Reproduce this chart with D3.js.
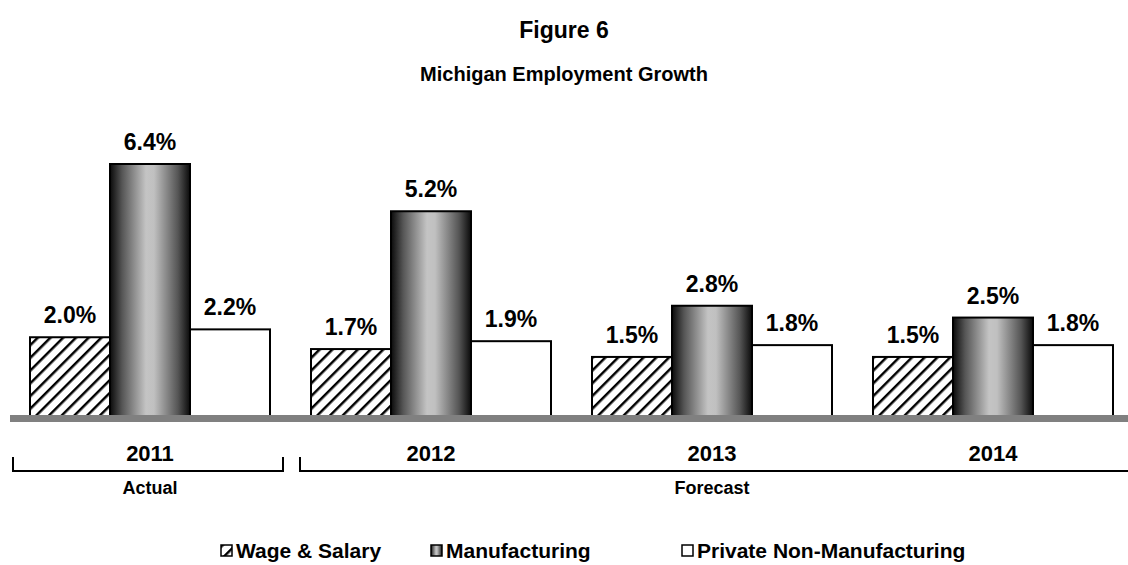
<!DOCTYPE html>
<html>
<head>
<meta charset="utf-8">
<script src="https://d3js.org/d3.v7.min.js"></script>
<style>
  body { margin: 0; background: #fff; }
  text { font-family: Arial, "Liberation Sans", sans-serif; font-weight: bold; fill: #000; }
</style>
</head>
<body>
<div id="chart"></div>
<script>
var years = ["2011", "2012", "2013", "2014"];
var series = ["Wage & Salary", "Manufacturing", "Private Non-Manufacturing"];
var wageSalary = [2.0, 1.7, 1.5, 1.5];
var manufacturing = [6.4, 5.2, 2.8, 2.5];
var privateNonMfg = [2.2, 1.9, 1.8, 1.8];
var periods = [{ label: "Actual", from: "2011", to: "2011" }, { label: "Forecast", from: "2012", to: "2014" }];

var width = 1128, height = 565;
var values = [wageSalary, manufacturing, privateNonMfg];
var fills = ["url(#hatch)", "url(#cyl)", "#fff"];

var svg = d3.select("#chart").append("svg")
    .attr("width", width)
    .attr("height", height);

var defs = svg.append("defs");
var pat = defs.append("pattern")
    .attr("id", "hatch")
    .attr("patternUnits", "userSpaceOnUse")
    .attr("width", 9).attr("height", 9)
    .attr("patternTransform", "rotate(45)");
pat.append("rect").attr("width", 9).attr("height", 9).attr("fill", "#fff");
pat.append("line").attr("x1", 0).attr("y1", 0).attr("x2", 0).attr("y2", 9)
    .attr("stroke", "#000").attr("stroke-width", 5);

var grad = defs.append("linearGradient").attr("id", "cyl")
    .attr("x1", "0%").attr("x2", "100%").attr("y1", "0%").attr("y2", "0%");
[["0%", "#0a0a0a"], ["15%", "#555"], ["45%", "#c4c4c4"], ["55%", "#c0c0c0"], ["85%", "#555"], ["100%", "#0a0a0a"]]
  .forEach(function(s) { grad.append("stop").attr("offset", s[0]).attr("stop-color", s[1]); });

var x0 = d3.scaleBand().domain(years).range([30, 1113]).paddingInner(41 / 281).paddingOuter(0);
var x1 = d3.scaleBand().domain(series).range([0, x0.bandwidth()]);
var y = d3.scaleLinear().domain([0, 6.4]).range([416, 164]);

// titles
svg.append("text").attr("x", width / 2).attr("y", 38).attr("text-anchor", "middle")
    .style("font-size", "23px").text("Figure 6");
svg.append("text").attr("x", width / 2).attr("y", 81).attr("text-anchor", "middle")
    .style("font-size", "20px").text("Michigan Employment Growth");

// bars
var groups = svg.selectAll(".grp").data(years).enter().append("g")
    .attr("class", "grp")
    .attr("transform", function(d) { return "translate(" + x0(d) + ",0)"; });

groups.selectAll("rect").data(function(d, i) {
    return series.map(function(s, j) { return { s: s, j: j, v: values[j][i] }; });
  }).enter().append("rect")
    .attr("x", function(d) { return x1(d.s); })
    .attr("y", function(d) { return y(d.v); })
    .attr("width", x1.bandwidth())
    .attr("height", function(d) { return y(0) - y(d.v); })
    .attr("fill", function(d) { return fills[d.j]; })
    .attr("stroke", "#000").attr("stroke-width", 2);

groups.selectAll(".val").data(function(d, i) {
    return series.map(function(s, j) { return { s: s, v: values[j][i] }; });
  }).enter().append("text")
    .attr("class", "val")
    .attr("x", function(d) { return x1(d.s) + x1.bandwidth() / 2; })
    .attr("y", function(d) { return y(d.v) - 14; })
    .attr("text-anchor", "middle")
    .style("font-size", "23px")
    .text(function(d) { return d.v.toFixed(1) + "%"; });

// baseline band
svg.append("rect").attr("x", 10).attr("y", 415).attr("width", width - 10).attr("height", 7).attr("fill", "#808080");

// year labels
svg.selectAll(".yr").data(years).enter().append("text")
    .attr("class", "yr")
    .attr("x", function(d) { return x0(d) + x0.bandwidth() / 2; })
    .attr("y", 461)
    .attr("text-anchor", "middle")
    .style("font-size", "22px")
    .text(function(d) { return d; });

// period brackets
var brk = [[13, 283, true], [300, width + 5, false]];
periods.forEach(function(p, i) {
  var b = brk[i];
  var path = "M" + b[0] + ",457V471H" + b[1] + (b[2] ? "V457" : "");
  svg.append("path").attr("d", path).attr("fill", "none").attr("stroke", "#000").attr("stroke-width", 2);
  var cx = (x0(p.from) + x0(p.to) + x0.bandwidth()) / 2;
  svg.append("text").attr("x", cx).attr("y", 494).attr("text-anchor", "middle")
      .style("font-size", "18px").text(p.label);
});

// legend
var legX = [221, 431, 682];
var leg = svg.selectAll(".leg").data(series).enter().append("g")
    .attr("class", "leg")
    .attr("transform", function(d, i) { return "translate(" + legX[i] + ",545)"; });
leg.append("rect").attr("width", 11).attr("height", 11)
    .attr("fill", function(d, i) { return fills[i]; })
    .attr("stroke", "#000").attr("stroke-width", 1.5);
leg.append("text").attr("x", 15).attr("y", 13)
    .style("font-size", "21px")
    .text(function(d) { return d; });
</script>
</body>
</html>
